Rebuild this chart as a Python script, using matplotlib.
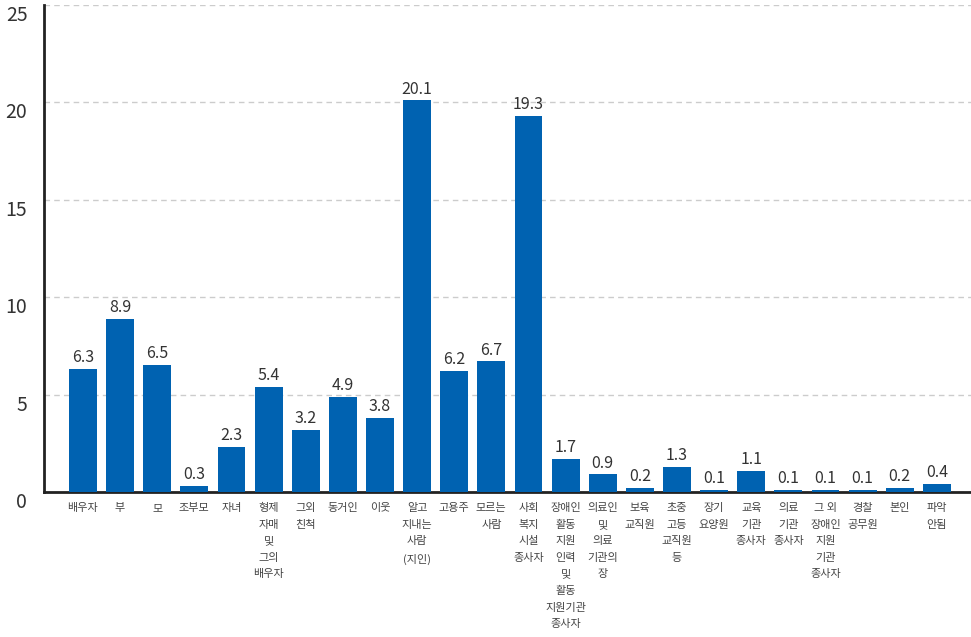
import matplotlib.pyplot as plt

plt.rcParams['font.family'] = ['Noto Sans CJK KR', 'DejaVu Sans']

labels = ['배우자', '부', '모', '조부모', '자녀', '형제\n자매\n및\n그의\n배우자', '그외\n친척', '동거인',
          '이웃', '알고\n지내는\n사람\n(지인)', '고용주', '모르는\n사람', '사회\n복지\n시설\n종사자',
          '장애인\n활동\n지원\n인력\n및\n활동\n지원기관\n종사자', '의료인\n및\n의료\n기관의\n장',
          '보육\n교직원', '초중\n고등\n교직원\n등', '장기\n요양원', '교육\n기관\n종사자', '의료\n기관\n종사자',
          '그 외\n장애인\n지원\n기관\n종사자', '경찰\n공무원', '본인', '파악\n안됨']
values = [6.3, 8.9, 6.5, 0.3, 2.3, 5.4, 3.2, 4.9, 3.8, 20.1, 6.2, 6.7, 19.3,
          1.7, 0.9, 0.2, 1.3, 0.1, 1.1, 0.1, 0.1, 0.1, 0.2, 0.4]
yticks = [0, 5, 10, 15, 20, 25]

fig = plt.figure(figsize=(9.71, 6.37), dpi=100)
ax = fig.add_axes([44 / 971, 145 / 637, 927 / 971, 487 / 637])

x = list(range(len(values)))
ax.bar(x, values, width=0.75, color='#0062b1', zorder=3)
for xi, v in zip(x, values):
    ax.text(xi, v + 0.15, f'{v}', ha='center', va='bottom', fontsize=11.5, color='#333333')

ax.set_xlim(-1.05, 23.92)
ax.set_ylim(0, 25)
ax.set_yticks(yticks)
ax.set_yticklabels([str(t) for t in yticks], fontsize=14, color='#333333', va='top')
ax.set_xticks(x)
ax.set_xticklabels(labels, fontsize=8, color='#444444', linespacing=1.82, va='top')
ax.tick_params(axis='y', length=0, pad=12)
ax.tick_params(axis='x', length=0, pad=8)

ax.grid(axis='y', color='#cccccc', linestyle=(0, (4, 3)), linewidth=1, zorder=0)
for s in ['top', 'right']:
    ax.spines[s].set_visible(False)
ax.spines['left'].set_linewidth(2)
ax.spines['left'].set_color('#222222')
ax.spines['bottom'].set_linewidth(2)
ax.spines['bottom'].set_color('#222222')

fig.savefig('out.png', dpi=100)
